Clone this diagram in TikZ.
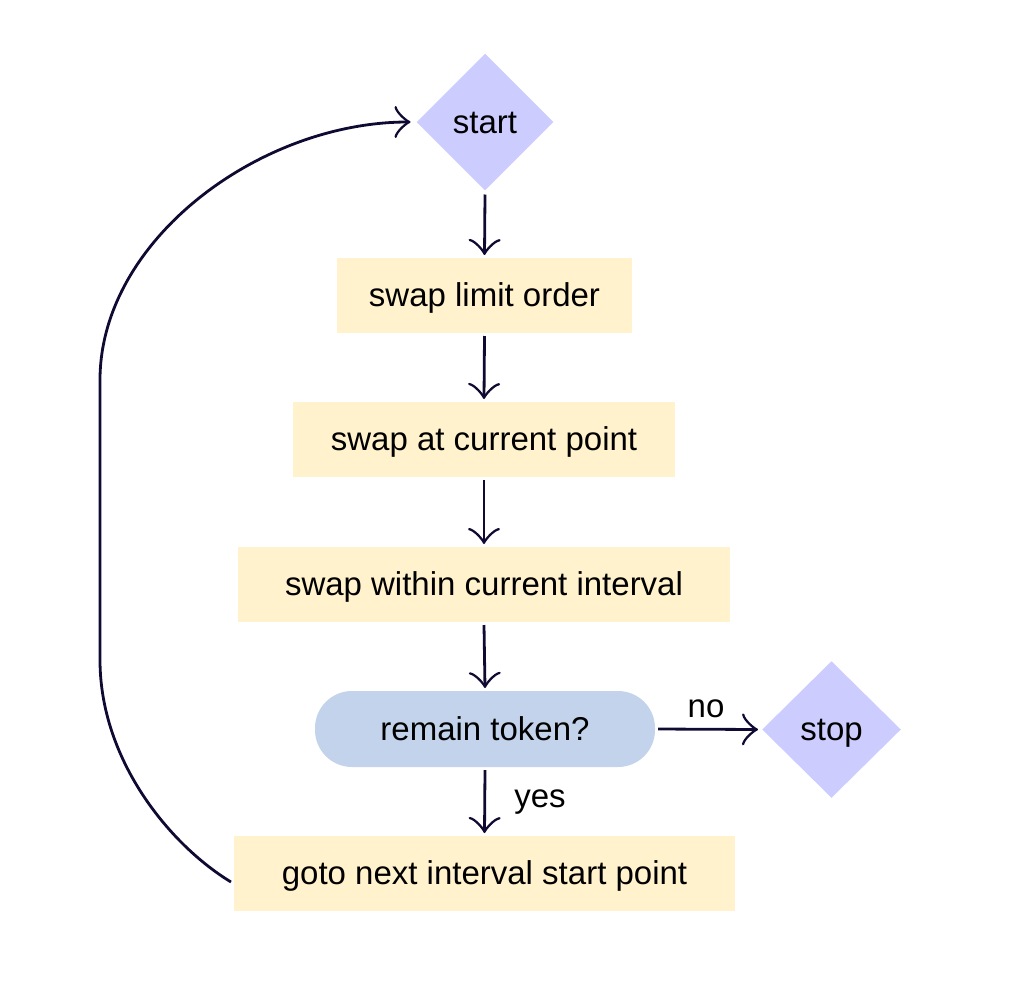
\documentclass[tikz,border=0pt]{standalone}
\usepackage{fontspec}
\setmainfont{Liberation Sans}
\usetikzlibrary{shapes.geometric,arrows.meta}
\definecolor{diac}{RGB}{204,204,255}
\definecolor{boxc}{RGB}{255,242,204}
\definecolor{pillc}{RGB}{195,211,236}
\definecolor{linec}{RGB}{14,10,50}
\begin{document}
\begin{tikzpicture}[x=1pt,y=-1pt,
  every node/.style={font=\fontsize{33}{38}\selectfont, text height=27.5pt, text depth=5.5pt, inner sep=0pt, outer sep=3pt},
  dianode/.style={diamond, fill=diac, minimum width=139pt, minimum height=139pt},
  procbox/.style={rectangle, fill=boxc, minimum height=75pt},
  pillbox/.style={rectangle, rounded corners=37pt, fill=pillc, minimum height=76pt, minimum width=340pt},
  lbl/.style={outer sep=0pt, anchor=base},
  conn/.style={draw=linec, line width=2.8pt, -{Classical TikZ Rightarrow[length=16pt,width=32pt]}}
]
\useasboundingbox (0,0) rectangle (1024,985);
\node[dianode] (start) at (485,122) {start};
\node[procbox, minimum width=295pt] (b1) at (484.5,295.5) {swap limit order};
\node[procbox, minimum width=382pt] (b2) at (484,439.5) {swap at current point};
\node[procbox, minimum width=492pt] (b3) at (484,584.5) {swap within current interval};
\node[pillbox] (q) at (485,729) {remain token?};
\node[dianode, minimum width=141pt] (stop) at (831.5,729.5) {stop};
\node[procbox, minimum width=501pt] (b5) at (484.5,873.5) {goto next interval start point};
\node[lbl] (no) at (706,717) {no};
\node[lbl] (yes) at (540,807) {yes};
\draw[conn] (start.south) -- (b1.north);
\draw[conn] (b1.south) -- (b2.north);
\draw[conn] (b2.south) -- (b3.north);
\draw[conn] (b3.south) -- (q.north);
\draw[conn] (q.east) -- (stop.west);
\draw[conn] (q.south) -- (b5.north);
\draw[conn] ([shift={(0,8.5)}]b5.west) .. controls (170,845) and (100,760) .. (100,660)
  -- (100,380) .. controls (100,240) and (260,122) .. ([xshift=-2pt]start.west);
\end{tikzpicture}
\end{document}
